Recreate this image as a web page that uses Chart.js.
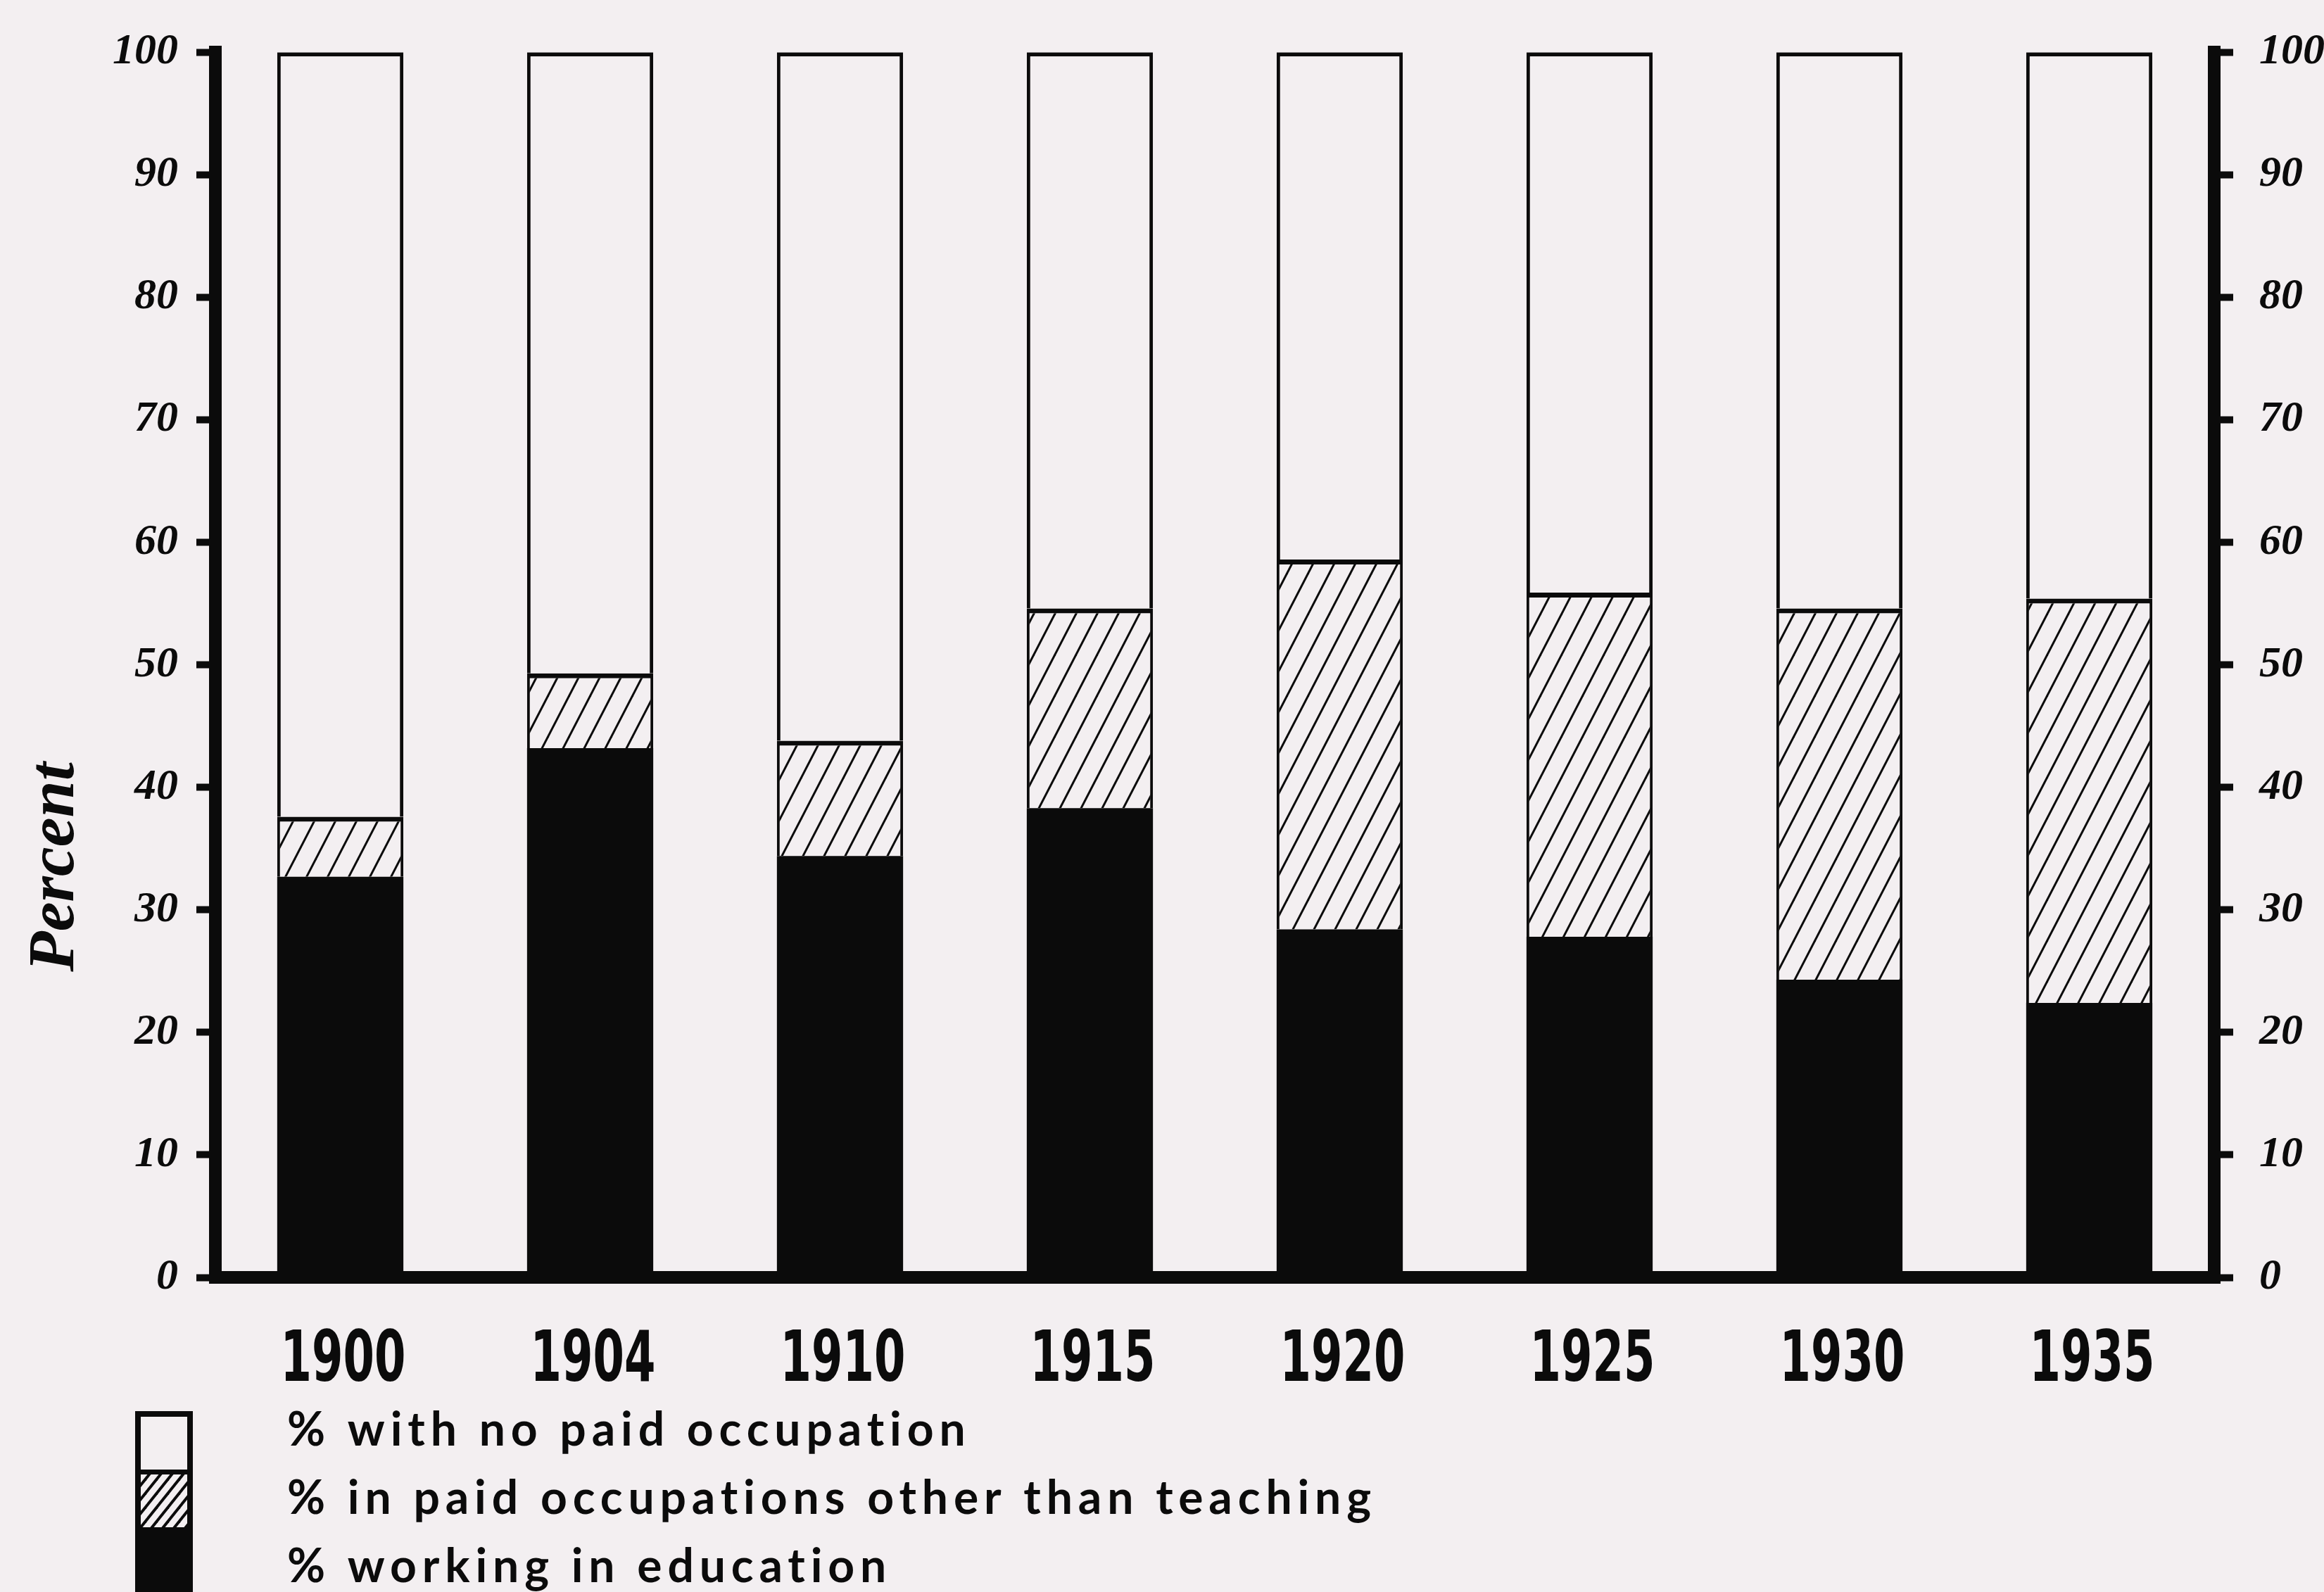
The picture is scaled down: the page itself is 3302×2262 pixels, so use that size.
<!DOCTYPE html>
<html><head><meta charset="utf-8">
<script src="https://cdn.jsdelivr.net/npm/chart.js@4.4.1/dist/chart.umd.min.js"></script>
<style>html,body{margin:0;padding:0;background:#f3eff1;}#wrap{width:3302px;height:2262px;}canvas{display:block;}</style>
</head><body><div id="wrap"><canvas id="c" width="3302" height="2262"></canvas></div>
<script>
// ---- data ----
const years = ['1900', '1904', '1910', '1915', '1920', '1925', '1930', '1935'];
const educationPct = [32.7, 43.2, 34.4, 38.3, 28.4, 27.8, 24.3, 22.4];
const otherPaidPct = [4.9, 6.1, 9.4, 16.3, 30.2, 28.1, 30.3, 33.0];
const noPaidPct = [62.4, 50.7, 56.2, 45.4, 41.4, 44.1, 45.4, 44.6];
const seriesLabels = ['% working in education', '% in paid occupations other than teaching', '% with no paid occupation'];
const yAxisTitle = 'Percent';
const yMin = 0, yMax = 100, yStep = 10;

const PAPER = '#f3eff1';
const INK = '#0b0b0b';

function hatch(w, h, lw, bg) {
  const c = document.createElement('canvas'); c.width = w; c.height = h;
  const g = c.getContext('2d');
  g.fillStyle = bg; g.fillRect(0, 0, w, h);
  g.strokeStyle = INK; g.lineWidth = lw;
  for (const dx of [-w, 0, w]) {
    g.beginPath(); g.moveTo(dx - w, 2 * h); g.lineTo(dx + 2 * w, -h); g.stroke();
  }
  return g.createPattern(c, 'repeat');
}
const barHatch = hatch(30, 58, 3, PAPER);
const legendHatch = hatch(16, 20, 4, PAPER);

const tickFontY = { family: '"Liberation Serif", serif', size: 62, style: 'italic', weight: 'bold' };

const paper = {
  id: 'paper',
  beforeDraw(chart) {
    const { ctx, width, height } = chart;
    ctx.save(); ctx.fillStyle = PAPER; ctx.fillRect(0, 0, width, height); ctx.restore();
  }
};

const extras = {
  id: 'extras',
  afterDraw(chart) {
    const ctx = chart.ctx;
    // category labels under the bars (condensed lettering), positioned by the x scale
    const xs = chart.scales.x;
    ctx.save();
    ctx.fillStyle = INK;
    ctx.font = 'bold 100px "DejaVu Sans Condensed", "DejaVu Sans", sans-serif';
    ctx.textAlign = 'center'; ctx.textBaseline = 'alphabetic';
    chart.data.labels.forEach((lab, i) => {
      const px = xs.getPixelForTick(i);
      ctx.save();
      ctx.translate(px + 4, 1962);
      ctx.scale(0.71, 1);
      ctx.fillText(lab, 0, 0);
      ctx.restore();
    });
    ctx.restore();

    // y axis title
    ctx.save();
    ctx.translate(80, 1232);
    ctx.rotate(-Math.PI / 2);
    ctx.fillStyle = INK;
    ctx.font = 'italic bold 94px "Liberation Serif", serif';
    ctx.textAlign = 'center'; ctx.textBaseline = 'middle';
    ctx.fillText(yAxisTitle, 0, 0);
    ctx.restore();

    // legend: stacked swatch + labels (top to bottom: no paid, other, education)
    const ds = chart.data.datasets.slice().reverse();
    ctx.save();
    const sx = 192, sw = 82, top = 2005, bottom = 2275;
    ctx.fillStyle = INK; ctx.fillRect(sx, top, sw, bottom - top);
    ctx.fillStyle = PAPER; ctx.fillRect(sx + 8, top + 8, sw - 16, 2088 - top - 8);
    ctx.fillStyle = legendHatch; ctx.fillRect(sx + 8, 2095, sw - 16, 2170 - 2095);

    ctx.fillStyle = INK;
    ctx.font = 'bold 66px Lato, "Liberation Sans", sans-serif';
    ctx.textBaseline = 'alphabetic'; ctx.textAlign = 'left';
    ctx.letterSpacing = '0px';
    const longest = ds[1].label;
    const w0 = ctx.measureText(longest).width;
    const ls = Math.max(0, (1549 - w0) / longest.length);
    ctx.letterSpacing = ls + 'px';
    const baselines = [2054, 2151, 2248];
    ds.forEach((d, i) => ctx.fillText(d.label, 408, baselines[i]));
    ctx.restore();
  }
};

new Chart(document.getElementById('c'), {
  type: 'bar',
  data: {
    labels: years,
    datasets: [
      { label: seriesLabels[0], data: educationPct, backgroundColor: INK, borderWidth: 0 },
      { label: seriesLabels[1], data: otherPaidPct, backgroundColor: barHatch, borderColor: INK,
        borderWidth: { top: 7, left: 4, right: 4, bottom: 0 }, borderSkipped: false },
      { label: seriesLabels[2], data: noPaidPct, backgroundColor: PAPER, borderColor: INK,
        borderWidth: { top: 6, left: 5, right: 5, bottom: 0 }, borderSkipped: false }
    ]
  },
  options: {
    responsive: false, animation: false, devicePixelRatio: 1,
    layout: { padding: { top: 63, left: 0, right: 0, bottom: 0 } },
    datasets: { bar: { barPercentage: 0.505, categoryPercentage: 1.0 } },
    plugins: { legend: { display: false }, tooltip: { enabled: false }, title: { display: false } },
    scales: {
      x: {
        stacked: true,
        grid: { display: false, lineWidth: 18 },
        border: { display: true, width: 18, color: INK },
        ticks: { display: false },
        afterFit: s => { s.height = 2262 - 1815; }
      },
      y: {
        stacked: true, min: yMin, max: yMax,
        ticks: { stepSize: yStep, color: INK, padding: 26, font: tickFontY },
        grid: { drawOnChartArea: false, drawTicks: true, tickLength: 27, tickWidth: 10, tickColor: INK },
        border: { display: true, width: 18, color: INK },
        afterFit: s => { s.width = 306; }
      },
      y2: {
        position: 'right', min: yMin, max: yMax,
        ticks: { stepSize: yStep, color: INK, padding: 37, font: tickFontY },
        grid: { drawOnChartArea: false, drawTicks: true, tickLength: 27, tickWidth: 10, tickColor: INK },
        border: { display: true, width: 18, color: INK },
        afterFit: s => { s.width = 156; }
      }
    }
  },
  plugins: [paper, extras]
});
</script></body></html>
